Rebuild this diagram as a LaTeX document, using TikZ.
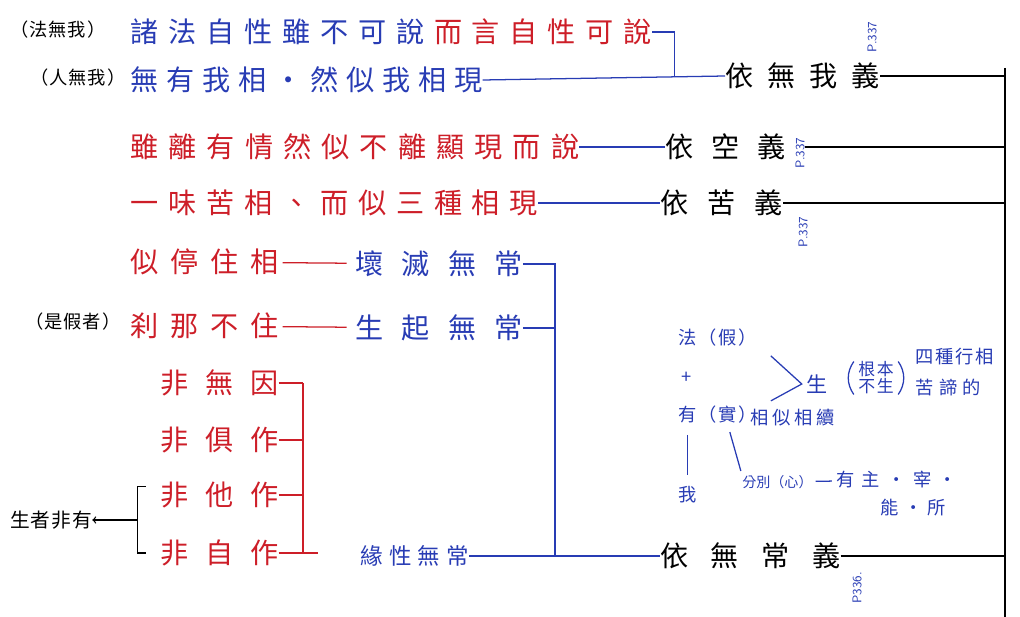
\documentclass[tikz,border=0pt]{standalone}
\usepackage{fontspec}
\newfontfamily\cjk{Noto Sans CJK TC}
\definecolor{penred}{RGB}{205,30,40}
\definecolor{penblue}{RGB}{40,60,180}
\newcommand\zi[2]{\fontsize{#1}{#1}\selectfont\addfontfeature{LetterSpace=#2}}

\begin{document}
\begin{tikzpicture}[x=0.025cm,y=-0.025cm]
\tikzstyle{every node} = [inner sep=0pt, anchor=west]
\tikzstyle{line} = [line width=0.9pt]
\tikzstyle{bl} = [line, draw=penblue]
\tikzstyle{rl} = [line, draw=penred]
\tikzstyle{rd} = [text=penred]
\tikzstyle{bt} = [text=penblue]
\tikzstyle{tag} = [font=\cjk\zi{13}{5}]
\tikzstyle{pg} = [text=penblue, font=\sffamily\fontsize{9}{9}\selectfont, rotate=90, anchor=center]
\tikzstyle{mid} = [text=penblue, font=\cjk\zi{13}{10}]
\useasboundingbox (0,0) rectangle (1020,617);

% spine on the right
\coordinate (top) at (1005,68);
\coordinate (bot) at (1005,617);
\draw[line] (top) -- (bot);

\node (w1) at (725,76) [font=\cjk\zi{20}{50}] {依無我義}; %four meanings
\node (w2) at (665,147) [font=\cjk\zi{20}{64}] {依空義};
\node (w3) at (660,203) [font=\cjk\zi{20}{68}] {依苦義};
\node (w4) at (660,556) [font=\cjk\zi{20}{80}] {依無常義};

\node (p1) at (872,37) [pg] {P.337};
\node (p2) at (800,153) [pg] {P.337};
\node (p3) at (803,232) [pg] {P.337};
\node (p4) at (857,588) [pg] {P336.};

\foreach \w in {w1,w3,w4}
	\draw[line] (\w.east) -- (\w.east -| top);
\draw[line] (w2.east -| p2.south) -- (w2.east -| top); %past the page tag

% top rows
\node (t1) at (10,30) [tag] {（法無我）};
\node (r1) at (130,32) [font=\cjk\zi{20}{35}] {\color{penblue}諸法自性雖不可說\hspace{7pt}\color{penred}而言自性可說};
\node (t2) at (30,78) [tag] {（人無我）};
\node (r2) at (130,80) [bt, font=\cjk\zi{20}{28}] {無有我相·然似我相現};
\draw[bl] (r2.east) -- (w1.west);
\draw[bl] (r1.east) -- ++(22,0) coordinate (j1) -- (j1 |- w1.west);
\node (r3) at (130,147) [rd, font=\cjk\zi{20}{36}] {雖離有情然似不離顯現而說};
\draw[bl] (r3.east) -- (w2.west);
\node (r4) at (130,203) [rd, font=\cjk\zi{20}{35}] {一味苦相、而似三種相現};
\draw[bl] (r4.east) -- (w3.west);

% impermanence
\node (a1) at (130,262) [rd, font=\cjk\zi{20}{42}] {似停住相};
\node (b1) at (355,264) [bt, font=\cjk\zi{20}{65}] {壞滅無常};
\draw[rl, shorten <=3pt, shorten >=6pt] (a1) -- (b1);
\node (t3) at (25,322) [tag] {（是假者）};
\node (a2) at (130,326) [rd, font=\cjk\zi{20}{42}] {刹那不住};
\node (b2) at (355,328) [bt, font=\cjk\zi{20}{65}] {生起無常};
\draw[rl, shorten <=3pt, shorten >=6pt] (a2) -- (b2);

\node (f1) at (160,383) [rd, font=\cjk\zi{20}{60}] {非無因};
\node (f2) at (160,440) [rd, font=\cjk\zi{20}{60}] {非俱作};
\node (f3) at (160,495) [rd, font=\cjk\zi{20}{60}] {非他作};
\node (f4) at (160,553) [rd, font=\cjk\zi{20}{60}] {非自作};
\coordinate (rb) at (303,383);
\foreach \f in {f1,f2,f3,f4}
	\draw[rl] (\f.east) -- (\f.east -| rb);
\draw[rl] (rb) -- (rb |- f4.east) -- ++(15,0);

\node (b3) at (360,556) [bt, font=\cjk\zi{16}{28}] {緣性無常};
\coordinate (bj) at (555,556);
\draw[bl] (b1.east) -| (bj);
\draw[bl] (b2.east) -- (b2.east -| bj);
\draw[bl] (b3.east) -- (w4.west);

% bracket and arrow
\node (sz) at (10,520) [font=\cjk\zi{14}{5}] {生者非有};
\draw[line] ([xshift=-10pt,yshift=6pt]f3.west) -- ++(-6pt,0) coordinate (bk) |- ([xshift=-10pt]f4.west);
\draw[line, ->] (bk |- sz) -- (sz);

% middle sketch
\node (fa) at (678,338) [mid] {法（假）};
\node (pl) at (681,378) [mid] {+};
\node (you) at (678,415) [mid] {有};
\node (shi) at (698,415) [mid] {（實）};
\node (xs) at (750,418) [mid, font=\cjk\zi{13}{20}] {相似相續};
\node (wo) at (678,495) [mid] {我};
\node (fb) at (742,482) [mid, font=\cjk\zi{10}{0}] {分別（心）};
\node (zz) at (836,480) [mid, font=\cjk\zi{13}{40}] {有主·宰·};
\node (nn) at (880,508) [mid, font=\cjk\zi{13}{30}] {能·所};
\node (sh) at (806,384) [mid, font=\cjk\zi{15}{0}] {生};
\node (gb) at (876,378) [mid, align=center, anchor=center, font=\cjk\zi{12}{10}] {根本\\不生};
\node (s1) at (915,357) [mid] {四種行相};
\node (s2) at (915,388) [mid, font=\cjk\zi{13}{30}] {苦諦的};
\draw[bl] ([shift={(-3pt,0pt)}]gb.north west) to[bend right=35] ([shift={(-3pt,0pt)}]gb.south west);
\draw[bl] ([shift={(3pt,0pt)}]gb.north east) to[bend left=35] ([shift={(3pt,0pt)}]gb.south east);
\draw[bl] ([shift={(-25pt,20pt)}]sh.west) -- ([xshift=-3pt]sh.west) -- ([shift={(-25pt,-12pt)}]sh.west);
\draw[bl, shorten <=8pt, shorten >=8pt] (you) -- (wo);
\draw[bl, shorten <=6pt, shorten >=3pt] (shi.south) -- (fb.north west);
\draw[bl, shorten <=2pt, shorten >=3pt] (fb) -- (zz);
\end{tikzpicture}
\end{document}
